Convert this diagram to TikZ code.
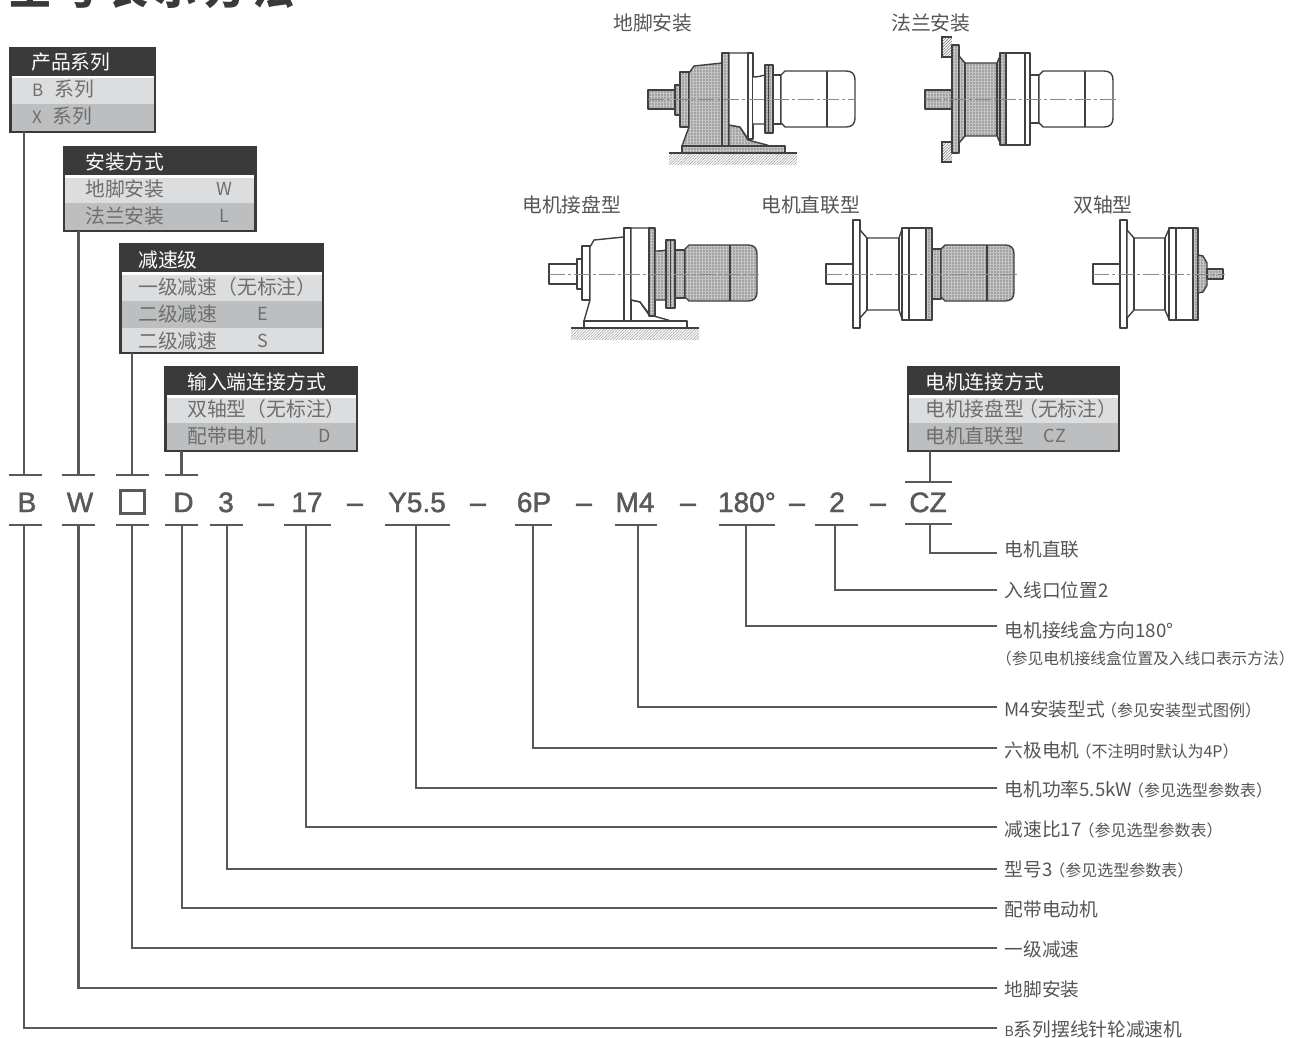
\documentclass[tikz,border=0pt]{standalone}
\usepackage{fontspec}
\usetikzlibrary{patterns.meta}
\setmainfont{Noto Sans CJK SC}
\newfontfamily\codefont{Liberation Sans}[FakeBold=1.6]
\newfontfamily\titlefont{Noto Sans CJK SC}[LetterSpace=16]
\definecolor{ink}{HTML}{58595B}
\definecolor{dark}{HTML}{3A3A3A}
\definecolor{rowa}{HTML}{DCDDDE}
\definecolor{rowb}{HTML}{BCBEC0}
\definecolor{txt}{HTML}{555555}
\definecolor{meshg}{HTML}{A2A2A2}
\definecolor{meshl}{HTML}{C6C6C6}
\definecolor{outl}{HTML}{404040}
\definecolor{cl}{HTML}{8A8A8A}
\tikzset{
 x=1pt,y=-1pt,
 conn/.style={draw=ink,line width=2.6pt},
 tickmark/.style={fill=ink,inner sep=0pt,minimum height=2.6pt,draw=none},
 codetext/.style={font=\codefont\fontsize{28}{28}\selectfont,text=ink,anchor=base,inner sep=0pt},
 lab/.style={font=\fontsize{18.7}{20}\selectfont,text=txt,anchor=base west,inner sep=0pt},
 capt/.style={font=\fontsize{19.8}{20}\selectfont,text=txt,anchor=base west,inner sep=0pt},
 headtext/.style={font=\fontsize{19.8}{20}\selectfont,text=white,anchor=base west,inner sep=0pt},
 rowtext/.style={font=\fontsize{19.8}{20}\selectfont,text=txt!85,anchor=base west,inner sep=0pt},
 rowkey/.style={font=\fontsize{18}{20}\selectfont,text=txt!85,anchor=base,inner sep=0pt},
 meshed/.style={preaction={fill=meshg},
   preaction={pattern={Lines[angle=0,distance=3pt,line width=.8pt]},pattern color=meshl},
   preaction={pattern={Lines[angle=90,distance=3pt,line width=.8pt]},pattern color=meshl}},
 partline/.style={draw=outl,line width=1.4pt,line join=round},
 whitepart/.style={partline,fill=white},
 meshpart/.style={partline,meshed},
 centreline/.style={draw=cl,line width=1pt,dash pattern=on 16pt off 3pt on 3pt off 3pt},
 groundhatch/.style={pattern={Lines[angle=45,distance=2pt,line width=.6pt]},pattern color=gray!70,draw=none},
 wallh/.style={draw=outl,line width=1.2pt,pattern={Lines[angle=45,distance=2pt,line width=.6pt]},pattern color=gray},
}
\newcommand{\smalltxt}[1]{{\fontsize{16}{17}\selectfont #1}}
\newcommand{\optbox}[7]{%
 \fill[rowa] (#1,#3) rectangle (#2,#6);
 \fill[#7] (#1,#4) rectangle (#2,#5);
 \fill[dark] (#1,#3) rectangle (#2,#3+28);
 \fill[white] (#1,#3+28) rectangle (#2,#3+30.5);
 \draw[dark,line width=2.5pt] (#1,#3) rectangle (#2,#6);
}
\newcommand{\motorbody}[6]{%
 \draw[#6] (#1,#3+4) -- (#1+4,#3) -- (#2-9,#3) .. controls (#2-3,#3) and (#2,#3+3) .. (#2,#3+9)
   -- (#2,#4-9) .. controls (#2,#4-3) and (#2-3,#4) .. (#2-9,#4) -- (#1+4,#4) -- (#1,#4-4) -- cycle;
 \draw[partline,line width=1.6pt] (#5,#3) -- (#5,#4);
}
\begin{document}
\begin{tikzpicture}
\useasboundingbox (0,0) rectangle (1293,1038);
\clip (0,0) rectangle (1293,1038);
\fill[white] (0,0) rectangle (1293,1038);

\node[font=\titlefont\bfseries\fontsize{42}{42}\selectfont,text=dark,anchor=base west,inner sep=0pt] (title) at (9,5) {型号表示方法};

% ---- option boxes ----
\optbox{10.5}{155}{48}{104}{132}{132}{rowb}
\node[headtext] (h1) at (31,70) {产品系列};
\node[rowtext] (r11) at (32,96.5) {{\fontsize{17}{20}\selectfont B}\hspace{11pt}系列};
\node[rowtext] (r12) at (32,123.5) {{\fontsize{17}{20}\selectfont X}\hspace{11pt}系列};

\optbox{64}{255.5}{147}{203}{231}{231}{rowb}
\node[headtext] (h2) at (85,169.5) {安装方式};
\node[rowtext] (r21) at (85,196) {地脚安装};
\node[rowtext] (r22) at (85,223) {法兰安装};
\node[rowkey] (k21) at (224,195) {W};
\node[rowkey] (k22) at (224,222) {L};

\optbox{120.5}{323}{244}{301}{328}{353}{rowb}
\node[headtext] (h3) at (138,267) {减速级};
\node[rowtext] (r31) at (138,294) {一级减速（无标注）};
\node[rowtext] (r32) at (138,321) {二级减速};
\node[rowtext] (r33) at (138,348) {二级减速};
\node[rowkey] (k32) at (263,320) {E};
\node[rowkey] (k33) at (263,347) {S};

\optbox{165.5}{357}{367}{423}{451}{451}{rowb}
\node[headtext] (h4) at (187,389) {输入端连接方式};
\node[rowtext] (r41) at (187,416) {双轴型（无标注）};
\node[rowtext] (r42) at (187,443) {配带电机};
\node[rowkey] (k42) at (325,442) {D};

\optbox{908}{1119}{367}{423}{451}{451}{rowb}
\node[headtext] (h5) at (925,389) {电机连接方式};
\node[rowtext] (r51) at (925,416) {电机接盘型\hspace{-6pt}（无标注）};
\node[rowtext] (r52) at (925,443) {电机直联型};
\node[rowkey] (k52) at (1055,442) {CZ};

% ---- type code ----
\node[codetext] (cB) at (27,512) {B};
\node[codetext] (cW) at (80,512) {W};
\node[draw=ink,line width=2.2pt,fill=white,minimum width=24pt,minimum height=23pt,inner sep=0pt] (cN) at (132.5,502) {};
\node[codetext] (cD) at (183.5,512) {D};
\node[codetext] (c3) at (226,512) {3};
\node[codetext] (d1) at (266,512) {–};
\node[codetext] (c17) at (307,512) {17};
\node[codetext] (d2) at (355,512) {–};
\node[codetext] (cY) at (417,512) {Y5.5};
\node[codetext] (d3) at (478,512) {–};
\node[codetext] (c6) at (534,512) {6P};
\node[codetext] (d4) at (584,512) {–};
\node[codetext] (cM) at (635,512) {M4};
\node[codetext] (d5) at (688,512) {–};
\node[codetext] (c18) at (747,512) {180°};
\node[codetext] (d6) at (797,512) {–};
\node[codetext] (c2) at (837,512) {2};
\node[codetext] (d7) at (878,512) {–};
\node[codetext] (cC) at (928,512) {CZ};

% ticks above
\node[tickmark,minimum width=33pt] (tB) at (25.5,475) {};
\node[tickmark,minimum width=33pt] (tW) at (78.5,475) {};
\node[tickmark,minimum width=33pt] (tN) at (132.5,475) {};
\node[tickmark,minimum width=33pt] (tD) at (181.5,475) {};
\node[tickmark,minimum width=47pt] (tC) at (928.5,482) {};
% ticks below
\node[tickmark,minimum width=33pt] (bB) at (25.5,525) {};
\node[tickmark,minimum width=33pt] (bW) at (78.5,525) {};
\node[tickmark,minimum width=33pt] (bN) at (132.5,525) {};
\node[tickmark,minimum width=33pt] (bD) at (181.5,525) {};
\node[tickmark,minimum width=33pt] (b3) at (226.5,525) {};
\node[tickmark,minimum width=47pt] (b17) at (307.5,525) {};
\node[tickmark,minimum width=65pt] (bY) at (417.5,525) {};
\node[tickmark,minimum width=37pt] (b6) at (533.5,525) {};
\node[tickmark,minimum width=42pt] (bM) at (636,525) {};
\node[tickmark,minimum width=56pt] (b18) at (747,525) {};
\node[tickmark,minimum width=43pt] (b2) at (836.5,525) {};
\node[tickmark,minimum width=47pt] (bC) at (928.5,524) {};

% upper connectors
\coordinate (uB) at (24,132);
\coordinate (uW) at (78.5,231);
\coordinate (uN) at (132,353);
\coordinate (uD) at (181.5,451);
\coordinate (uC) at (930,451);
\draw[conn] (uB) -- (uB |- tB);
\draw[conn] (uW) -- (uW |- tW);
\draw[conn] (uN) -- (uN |- tN);
\draw[conn] (uD) -- (uD |- tD);
\draw[conn] (uC) -- (uC |- tC);

% labels
\node[lab] (lC) at (1004.5,556.5) {电机直联};
\node[lab] (l2) at (1004.5,597) {入线口位置2};
\node[lab] (l18) at (1004.5,637) {电机接线盒方向180°};
\node[lab,font=\fontsize{15.7}{17}\selectfont] (l18b) at (996,664) {（参见电机接线盒位置及入线口表示方法）};
\node[lab] (lM) at (1004.5,716) {M4安装型式\hspace{-4pt}\smalltxt{（参见安装型式图例）}};
\node[lab] (l6) at (1004.5,757) {六极电机\hspace{-4pt}\smalltxt{（不注明时默认为4P）}};
\node[lab] (lY) at (1004.5,796.5) {电机功率5.5kW\hspace{-4pt}\smalltxt{（参见选型参数表）}};
\node[lab] (l17) at (1004.5,836.5) {减速比17\hspace{-3pt}\smalltxt{（参见选型参数表）}};
\node[lab] (l3) at (1004.5,876.5) {型号3\hspace{-3pt}\smalltxt{（参见选型参数表）}};
\node[lab] (lD) at (1004.5,916.5) {配带电动机};
\node[lab] (lN) at (1004.5,956.5) {一级减速};
\node[lab] (lW) at (1004.5,996.5) {地脚安装};
\node[lab] (lB) at (1004.5,1036.5) {{\fontsize{14}{16}\selectfont B}系列摆线针轮减速机};

% lower connectors
\foreach \nm/\sx/\yy in {C/930/553,2/835/590,18/746/626,M/638/707,6/533/748,Y/416/788,17/306/827,3/227/869,D/182/908,N/132/948,W/78.5/988,B/24/1028}{
  \coordinate (e\nm) at (997,\yy);
  \draw[conn,line join=miter] (\sx,525) -- (\sx,\yy) -- (e\nm);
}

% ---- caption labels ----
\node[capt] (m1) at (613,31) {地脚安装};
\node[capt] (m2) at (891,31) {法兰安装};
\node[capt] (m3) at (522,212) {电机接盘型};
\node[capt] (m4) at (761,212) {电机直联型};
\node[capt] (m5) at (1073,212) {双轴型};

% ---- machine 1: foot mount ----
\fill[groundhatch] (669,153) rectangle (797,164);
\draw[meshpart] (648,90) rectangle (675,109);
\draw[meshpart] (675,85) rectangle (680,115);
\draw[meshpart] (680,72) rectangle (689,127);
\draw[meshpart] (689,127) -- (689,73) -- (694,66) -- (722,63) -- (722,146) -- (682,146) -- cycle;
\draw[meshpart] (722,53) rectangle (729,146);
\draw[meshpart] (729,146) -- (729,125) -- (740,127) -- (748,140) -- (767,145) -- (769,146) -- cycle;
\draw[whitepart] (729,53) -- (748,53) -- (748,139) -- (740,127) -- (729,125) -- cycle;
\draw[whitepart] (748,53) rectangle (753,139);
\draw[whitepart] (753,77) .. controls (758,77) and (761,76) .. (765,75) -- (765,124) -- (753,124);
\draw[whitepart] (773,75) rectangle (781,124);
\draw[meshpart] (765,65) rectangle (773,133);
\draw[partline] (768.5,65) -- (768.5,133);
\motorbody{781}{855}{71}{127}{827}{whitepart}
\draw[meshpart] (682,146) rectangle (785,153);
\draw[partline] (669,153) -- (797,153);
\draw[centreline] (648,99.5) -- (856,99.5);

% ---- machine 2: flange mount ----
\draw[wallh] (952,37) -- (942,37) -- (942,57) -- (952,57);
\draw[wallh] (952,162) -- (942,162) -- (942,142) -- (952,142);
\draw[meshpart] (925,90) rectangle (952,109);
\draw[meshpart] (952,45) rectangle (959,153);
\draw[partline,line width=2pt] (952,45) -- (952,153);
\draw[meshpart] (959,56) -- (965,63) -- (997,63) -- (1001,54) -- (1001,145) -- (997,136) -- (965,136) -- (959,143) -- cycle;
\draw[partline] (965,63) -- (965,136);
\draw[partline] (997,63) -- (997,136);
\draw[meshpart] (1000,53) rectangle (1006,145);
\draw[whitepart] (1006,53) rectangle (1025,145);
\draw[whitepart] (1025,53) rectangle (1030,145);
\draw[whitepart] (1030,75) rectangle (1039,123);
\motorbody{1039}{1113}{71}{127}{1085}{whitepart}
\draw[centreline] (925,99.5) -- (1116,99.5);

% ---- machine 3: motor coupled, foot ----
\fill[groundhatch] (571,328) rectangle (699,339);
\draw[whitepart] (549,264) rectangle (577,284);
\draw[whitepart] (577,259) rectangle (582,289);
\draw[whitepart] (582,246) rectangle (590,300);
\draw[whitepart] (590,300) -- (590,247) -- (594,240) -- (624,237) -- (624,321) -- (584,321) -- cycle;
\draw[whitepart] (624,228) rectangle (631,321);
\draw[whitepart] (631,228) -- (649,228) -- (649,315) -- (640,302) -- (631,300) -- cycle;
\draw[partline] (631,300) -- (640,302) -- (650,315) -- (668,320) -- (670,321);
\draw[meshpart] (649,228) rectangle (655,316);
\draw[meshpart] (655,251) .. controls (659,251) and (662,251) .. (666,250) -- (666,300) -- (655,300) -- cycle;
\draw[meshpart] (675,250) rectangle (685,298);
\draw[meshpart] (666,240) rectangle (675,308);
\draw[partline] (670.5,240) -- (670.5,308);
\motorbody{685}{757}{245}{301}{730}{meshpart}
\draw[whitepart] (584,321) rectangle (687,328);
\draw[partline] (571,328) -- (699,328);
\draw[centreline] (549,274) -- (759,274);

% ---- machine 4: motor direct ----
\draw[whitepart] (826,264) rectangle (853,284);
\draw[whitepart] (853,220) rectangle (860,328);
\draw[partline,line width=2pt] (853,232) -- (853,316);
\draw[whitepart] (860,230) -- (867,238) -- (899,238) -- (902,229) -- (902,319) -- (899,310) -- (867,310) -- (860,318) -- cycle;
\draw[partline] (867,238) -- (867,310);
\draw[partline] (899,238) -- (899,310);
\draw[whitepart] (902,228) rectangle (909,320);
\draw[whitepart] (909,228) rectangle (926,320);
\draw[meshpart] (926,228) rectangle (932,320);
\draw[meshpart] (932,249) rectangle (941,299);
\motorbody{941}{1014}{245}{301}{987}{meshpart}
\draw[centreline] (826,274) -- (1017,274);

% ---- machine 5: double shaft ----
\draw[whitepart] (1093,264) rectangle (1120,284);
\draw[whitepart] (1120,220) rectangle (1127,328);
\draw[partline,line width=2pt] (1120,232) -- (1120,316);
\draw[whitepart] (1127,230) -- (1134,238) -- (1165,238) -- (1169,229) -- (1169,319) -- (1165,310) -- (1134,310) -- (1127,318) -- cycle;
\draw[partline] (1134,238) -- (1134,310);
\draw[partline] (1165,238) -- (1165,310);
\draw[whitepart] (1169,228) rectangle (1176,320);
\draw[whitepart] (1176,228) rectangle (1193,320);
\draw[meshpart] (1193,228) rectangle (1198,320);
\draw[meshpart] (1198,255) -- (1203,256) -- (1207,263) -- (1207,285) -- (1203,292) -- (1198,293) -- cycle;
\draw[meshpart] (1207,269) rectangle (1223,279);
\draw[centreline] (1093,274) -- (1225,274);
\end{tikzpicture}
\end{document}
